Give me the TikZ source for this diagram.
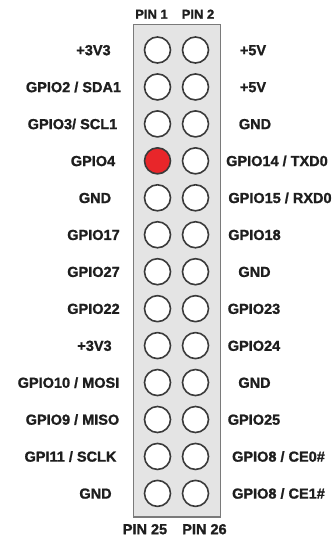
\documentclass[tikz,border=0pt]{standalone}
\usepackage{fontspec}
\setmainfont{Liberation Sans}[BoldFeatures={FakeBold=1.2}]
\definecolor{txt}{HTML}{1E1E1E}
\definecolor{boxfill}{HTML}{E4E4E4}
\definecolor{boxline}{HTML}{7A7A7A}
\definecolor{pinline}{HTML}{3A3A3A}
\definecolor{pinred}{HTML}{E8262A}
\begin{document}
\begin{tikzpicture}[x=1pt,y=-1pt,
  lbl/.style={font=\fontsize{14.5}{16}\selectfont\bfseries, text=txt, inner sep=0pt, anchor=base},
  pinhead/.style={font=\fontsize{13}{15}\selectfont\bfseries, text=txt, inner sep=0pt, anchor=base},
  pinfoot/.style={font=\fontsize{14.5}{16}\selectfont\bfseries, text=txt, inner sep=0pt, anchor=base},
  header/.style={draw=boxline, fill=boxfill, line width=1.3pt, minimum width=87pt, minimum height=492.5pt, inner sep=0pt},
  pin/.style={circle, draw=pinline, fill=white, line width=1.6pt, minimum size=26pt, inner sep=0pt},
  redpin/.style={pin, fill=pinred}]
\useasboundingbox (0,0) rectangle (336,542);
\fill[white] (0,0) rectangle (336,542);
\node[header] (box) at (177,270.75) {};
\node[pinhead] (h1) at (151.5,18.7) {PIN 1};
\node[pinhead] (h2) at (198,18.7) {PIN 2};
\node[pinfoot] (f25) at (145,534.2) {PIN 25};
\node[pinfoot] (f26) at (204.5,534.2) {PIN 26};
\foreach \i/\lx/\ltxt/\rx/\rtxt in {
  1/93.5/{+3V3}/253/{+5V},
  2/73.5/{GPIO2 / SDA1}/253/{+5V},
  3/72.5/{GPIO3/ SCL1}/255/{GND},
  4/93/{GPIO4}/277/{GPIO14 / TXD0},
  5/95/{GND}/280/{GPIO15 / RXD0},
  6/93.5/{GPIO17}/254.5/{GPIO18},
  7/93.5/{GPIO27}/254.5/{GND},
  8/93.5/{GPIO22}/254/{GPIO23},
  9/94.5/{+3V3}/254/{GPIO24},
  10/68.5/{GPIO10 / MOSI}/254.5/{GND},
  11/72.5/{GPIO9 / MISO}/254/{GPIO25},
  12/70.5/{GPI11 / SCLK}/278.5/{GPIO8 / CE0\#},
  13/95.5/{GND}/278.5/{GPIO8 / CE1\#}}{
  \pgfmathsetmacro{\yc}{50+(\i-1)*36.95}
  \node[lbl] (L\i) at (\lx,\yc+5.2) {\ltxt};
  \node[lbl] (R\i) at (\rx,\yc+5.2) {\rtxt};
  \ifnum\i=4
    \node[redpin] (P\i a) at (157.5,\yc) {};
  \else
    \node[pin] (P\i a) at (157.5,\yc) {};
  \fi
  \node[pin] (P\i b) at (195.5,\yc) {};
}
\end{tikzpicture}
\end{document}
